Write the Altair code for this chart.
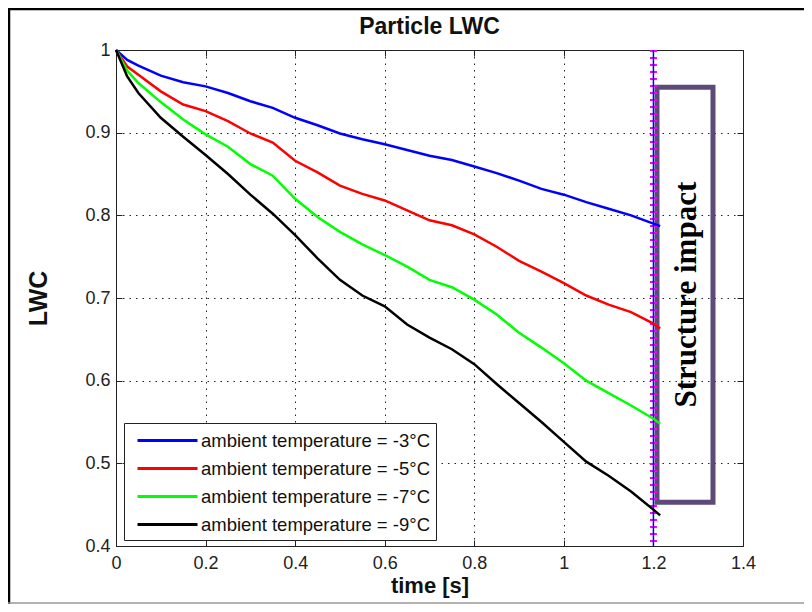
import altair as alt
import pandas as pd

# ---------------- data ----------------
time_s = [0, 0.025, 0.05, 0.1, 0.15, 0.2, 0.25, 0.3, 0.35, 0.4, 0.45, 0.5, 0.55, 0.6,
          0.65, 0.7, 0.75, 0.8, 0.85, 0.9, 0.95, 1.0, 1.05, 1.1, 1.15, 1.2, 1.215]

lwc_m3 = [1.0, 0.988, 0.981, 0.969, 0.961, 0.956, 0.948, 0.938, 0.930, 0.918, 0.909, 0.899,
          0.892, 0.886, 0.879, 0.872, 0.867, 0.859, 0.851, 0.842, 0.832, 0.825, 0.816, 0.808,
          0.800, 0.790, 0.787]
lwc_m5 = [1.0, 0.980, 0.970, 0.950, 0.934, 0.926, 0.914, 0.899, 0.888, 0.866, 0.852, 0.836,
          0.826, 0.818, 0.806, 0.794, 0.788, 0.777, 0.762, 0.745, 0.732, 0.718, 0.703, 0.692,
          0.683, 0.669, 0.663]
lwc_m7 = [1.0, 0.975, 0.960, 0.937, 0.916, 0.898, 0.883, 0.862, 0.848, 0.820, 0.798, 0.780,
          0.765, 0.752, 0.738, 0.722, 0.713, 0.698, 0.680, 0.658, 0.640, 0.621, 0.600, 0.585,
          0.570, 0.554, 0.548]
lwc_m9 = [1.0, 0.968, 0.948, 0.918, 0.895, 0.873, 0.850, 0.825, 0.802, 0.776, 0.748, 0.722,
          0.703, 0.690, 0.668, 0.652, 0.638, 0.620, 0.596, 0.573, 0.550, 0.526, 0.502, 0.485,
          0.466, 0.444, 0.437]

series_labels = ["ambient temperature = -3°C", "ambient temperature = -5°C",
                 "ambient temperature = -7°C", "ambient temperature = -9°C"]
series_colors = ["#0000ff", "#ff0000", "#00ff00", "#000000"]

x_ticks = [0, 0.2, 0.4, 0.6, 0.8, 1.0, 1.2, 1.4]
y_ticks = [0.4, 0.5, 0.6, 0.7, 0.8, 0.9, 1.0]

impact_time = [1.2]
box_x = [1.208, 1.333]
box_y = [0.453, 0.955]
note_text = ["Structure impact"]
note_pos = [1.276, 0.704]

# ---------------- tables ----------------
rows = []
for lab, vals in zip(series_labels, [lwc_m3, lwc_m5, lwc_m7, lwc_m9]):
    for t, v in zip(time_s, vals):
        rows.append({"time": t, "lwc": v, "series": lab})
df = pd.DataFrame(rows)
df_rule = pd.DataFrame({"t": impact_time})
df_box = pd.DataFrame({"x1": [box_x[0]], "x2": [box_x[1]], "y1": [box_y[0]], "y2": [box_y[1]]})
df_note = pd.DataFrame({"x": [note_pos[0]], "y": [note_pos[1]], "text": note_text})
df_one = pd.DataFrame({"a": [0]})

FONT = "Liberation Sans"
xs = alt.Scale(domain=[0, 1.4], nice=False, zero=False)
ys = alt.Scale(domain=[0.4, 1.0], nice=False, zero=False)

W, H = 627, 496

main_x_axis = alt.Axis(orient="bottom", values=x_ticks, format="~g", grid=True,
                       gridDash=[1.5, 5], gridColor="#222", gridOpacity=1, gridWidth=1,
                       ticks=False, tickSize=0, domain=False, labelPadding=8,
                       labelFontSize=18, labelFont=FONT, labelColor="#222",
                       labelFlush=False, labelOverlap=False,
                       title="time [s]", titleFont=FONT, titleFontSize=22,
                       titleFontWeight="bold", titleColor="#111", titlePadding=3)
main_y_axis = alt.Axis(orient="left", values=y_ticks, format="~g", grid=True,
                       gridDash=[1.5, 5], gridColor="#222", gridOpacity=1, gridWidth=1,
                       ticks=False, tickSize=0, domain=False, labelPadding=6,
                       labelFontSize=18, labelFont=FONT, labelColor="#222",
                       labelFlush=False, labelOverlap=False,
                       title="LWC", titleFont=FONT, titleFontSize=25,
                       titleFontWeight="bold", titleColor="#111", titlePadding=33)

legend = alt.Legend(orient="none", legendX=8, legendY=373, title=None,
                    symbolType="M-3,0H3", symbolSize=400, symbolStrokeWidth=3,
                    symbolOffset=26, labelOffset=22, labelLimit=0,
                    labelFontSize=18.5, labelFont=FONT, labelColor="#111",
                    padding=6, rowPadding=7, strokeColor="#222", fillColor="white",
                    cornerRadius=0)

lines = alt.Chart(df).mark_line(strokeWidth=2.5).encode(
    x=alt.X("time:Q", scale=xs, axis=main_x_axis),
    y=alt.Y("lwc:Q", scale=ys, axis=main_y_axis),
    color=alt.Color("series:N", scale=alt.Scale(domain=series_labels, range=series_colors),
                    legend=legend),
    detail="series:N",
)


def tick_axis(orient):
    return alt.Axis(orient=orient, offset=-6, values=x_ticks if orient in ("bottom", "top") else y_ticks,
                    labels=False, grid=False, domain=False, ticks=True, tickSize=6,
                    tickColor="#222", tickWidth=1, title=None)


ticks_bl = alt.Chart(df).mark_line(opacity=0).encode(
    x=alt.X("time:Q", scale=xs, axis=tick_axis("bottom")),
    y=alt.Y("lwc:Q", scale=ys, axis=tick_axis("left")),
    detail="series:N",
)
ticks_tr = alt.Chart(df).mark_line(opacity=0).encode(
    x=alt.X("time:Q", scale=xs, axis=tick_axis("top")),
    y=alt.Y("lwc:Q", scale=ys, axis=tick_axis("right")),
    detail="series:N",
)

box = alt.Chart(df_box).mark_rect(fillOpacity=0, stroke="#5c4a7a", strokeWidth=5).encode(
    x=alt.X("x1:Q", scale=xs, axis=None), x2="x2:Q",
    y=alt.Y("y1:Q", scale=ys, axis=None), y2="y2:Q",
)

magenta = alt.Chart(df_rule).mark_rule(color="#ff00ff", strokeWidth=7, strokeDash=[2, 5]).encode(
    x=alt.X("t:Q", scale=xs, axis=None))
blue_rule = alt.Chart(df_rule).mark_rule(color="#0000ff", strokeWidth=1.5).encode(
    x=alt.X("t:Q", scale=xs, axis=None))

note = alt.Chart(df_note).mark_text(angle=270, font="Liberation Serif", fontWeight="bold",
                                     fontSize=31, color="#000", align="center",
                                     baseline="middle").encode(
    x=alt.X("x:Q", scale=xs, axis=None), y=alt.Y("y:Q", scale=ys, axis=None), text="text:N")

frame_top = alt.Chart(df_one).mark_rule(color="#000", strokeWidth=2.5).encode(
    x=alt.value(-108), x2=alt.value(W + 61), y=alt.value(-41))
frame_left = alt.Chart(df_one).mark_rule(color="#000", strokeWidth=2.5).encode(
    x=alt.value(-107), y=alt.value(-42), y2=alt.value(H + 58))
frame_bottom = alt.Chart(df_one).mark_rule(color="#999", strokeWidth=1.5).encode(
    x=alt.value(-108), x2=alt.value(W + 61), y=alt.value(H + 57))

chart = alt.layer(
    box, magenta, blue_rule, lines, ticks_bl, ticks_tr, note,
    frame_top, frame_left, frame_bottom,
).resolve_axis(x="independent", y="independent").properties(
    width=W, height=H,
    title=alt.TitleParams("Particle LWC", font=FONT, fontSize=23, fontWeight="bold",
                          color="#111", anchor="middle", frame="group", offset=-32),
    autosize=alt.AutoSizeParams(type="none"),
    padding={"left": 108, "top": 42, "right": 61, "bottom": 58},
    background="white",
).configure_view(stroke="#222", strokeWidth=1)

chart.save("out.html", embed_options={"renderer": "svg", "actions": False})
